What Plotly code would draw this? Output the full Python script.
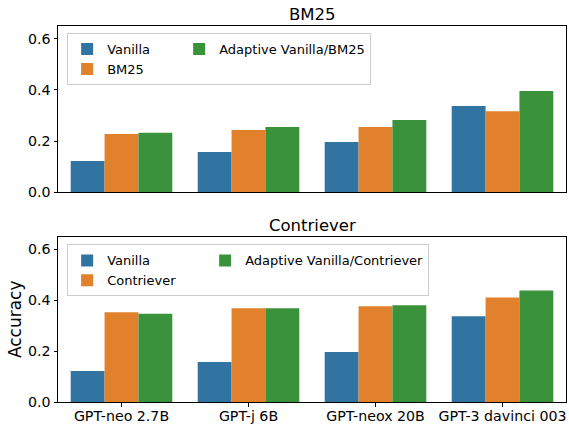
import plotly.graph_objects as go

models = ["GPT-neo 2.7B", "GPT-j 6B", "GPT-neox 20B", "GPT-3 davinci 003"]

bm25_vanilla = [0.122, 0.157, 0.196, 0.337]
bm25_retrieval = [0.228, 0.243, 0.255, 0.317]
bm25_adaptive = [0.232, 0.255, 0.282, 0.396]

con_vanilla = [0.122, 0.157, 0.196, 0.337]
con_retrieval = [0.353, 0.368, 0.376, 0.411]
con_adaptive = [0.347, 0.368, 0.380, 0.438]

titles = ["BM25", "Contriever"]
colors = ["#3274a1", "#e1812c", "#3a923a"]
FONT = "DejaVu Sans"

fig = go.Figure()

panels = [
    ("x", "y", "legend", "top", 67, ["Vanilla", "BM25", "Adaptive Vanilla/BM25"],
     [bm25_vanilla, bm25_retrieval, bm25_adaptive]),
    ("x2", "y2", "legend2", "bot", 93, ["Vanilla", "Contriever", "Adaptive Vanilla/Contriever"],
     [con_vanilla, con_retrieval, con_adaptive]),
]
for xa, ya, lg, tag, lw, names, series in panels:
    for i, (nm, vals) in enumerate(zip(names, series)):
        kw = {}
        if i < 2:
            kw["legendwidth"] = lw
        fig.add_trace(go.Bar(
            x=models, y=vals, name=nm, marker_color=colors[i],
            marker_line_width=0, xaxis=xa, yaxis=ya, legend=lg,
            legendgroup=f"{tag}{'a' if i < 2 else 'b'}", offsetgroup=str(i),
            **kw,
        ))

axis_common = dict(showline=True, mirror=True, linecolor="black", linewidth=1,
                   showgrid=False, zeroline=False, automargin=False)

legend_common = dict(orientation="h", xanchor="left", yanchor="top",
                     bordercolor="#cccccc", borderwidth=1,
                     bgcolor="rgba(255,255,255,0.8)", traceorder="grouped",
                     tracegroupgap=0, font=dict(size=13))

fig.update_layout(
    width=569, height=425,
    margin=dict(l=58, r=3, t=26, b=23, autoexpand=False),
    plot_bgcolor="white", paper_bgcolor="white",
    font=dict(family=FONT, size=14.2, color="black"),
    barmode="group", bargap=0.2, bargroupgap=0,
    xaxis=dict(domain=[0, 1], anchor="y", matches="x2", showticklabels=False,
               ticks="", **axis_common),
    yaxis=dict(domain=[0.558, 1], anchor="x", range=[0, 0.65],
               tickvals=[0, 0.2, 0.4, 0.6], tickformat=".1f",
               ticks="outside", ticklen=3.5, tickcolor="black", **axis_common),
    xaxis2=dict(domain=[0, 1], anchor="y2", ticks="outside", ticklen=3.5,
                tickcolor="black", ticklabelstandoff=-3, **axis_common),
    yaxis2=dict(domain=[0, 0.44], anchor="x2", range=[0, 0.65],
                tickvals=[0, 0.2, 0.4, 0.6], tickformat=".1f",
                ticks="outside", ticklen=3.5, tickcolor="black",
                title=dict(text="Accuracy", font=dict(size=17), standoff=2),
                **axis_common),
    legend=dict(x=0.018, y=0.981, **legend_common),
    legend2=dict(x=0.018, y=0.419, **legend_common),
    annotations=[
        dict(text=titles[0], xref="paper", yref="paper", x=0.5, y=1.0, yshift=0,
             xanchor="center", yanchor="bottom", showarrow=False, font=dict(size=16.5)),
        dict(text=titles[1], xref="paper", yref="paper", x=0.5, y=0.44, yshift=0,
             xanchor="center", yanchor="bottom", showarrow=False, font=dict(size=16.5)),
    ],
)

fig.write_html(
    "out.html",
    config={"displayModeBar": False},
    post_script="document.body.style.margin='0';document.body.style.padding='0';"
                "document.documentElement.style.overflow='hidden';",
)
